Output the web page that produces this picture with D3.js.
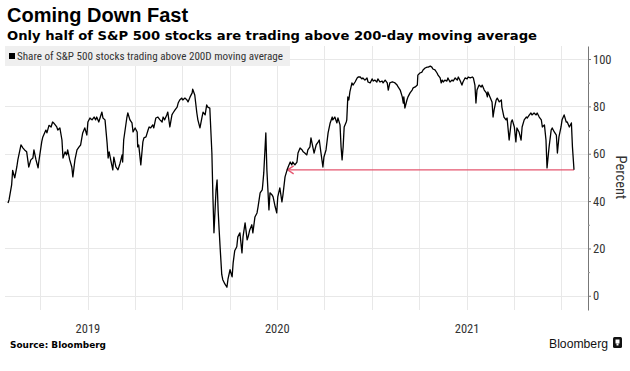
<!DOCTYPE html>
<html><head><meta charset="utf-8">
<script src="https://cdn.jsdelivr.net/npm/d3@7"></script>
<style>body{margin:0;background:#fff} svg{display:block}</style>
</head><body><svg id="c" width="630" height="371"></svg>
<script>
// ---- data ----
const baseDate = "2019-01-01";
const dayOffsets = [-154,-152,-147,-145,-141,-137,-135,-129,-125,-122,-118,-114,-110,-106,-104,-100,-96,-95,-89,-87,-81,-79,-75,-71,-68,-66,-60,-58,-54,-50,-48,-44,-41,-39,-35,-31,-29,-25,-21,-17,-14,-10,-6,-2,0,4,8,12,15,17,21,27,29,33,37,39,41,44,48,50,54,58,62,66,67,69,75,77,81,85,87,91,95,96,98,102,106,108,112,116,118,121,125,127,131,135,139,143,145,148,152,154,158,162,164,168,172,174,177,181,183,187,191,193,197,201,202,206,210,212,216,220,222,226,229,231,235,239,241,243,247,249,251,253,255,258,260,264,268,270,274,278,280,283,287,289,293,297,299,303,307,309,312,316,318,322,326,328,332,336,337,339,343,345,349,351,355,357,361,364,366,370,374,376,380,384,386,390,393,395,399,403,405,409,413,415,418,422,424,428,430,434,436,440,444,446,449,453,455,459,463,467,471,472,476,480,482,486,488,490,492,494,498,499,501,503,505,509,511,515,519,521,525,528,530,534,538,540,544,548,550,553,557,559,563,567,569,573,577,579,582,586,588,592,596,598,602,606,608,609,611,615,617,621,625,627,631,635,636,640,644,646,650,654,656,660,663,665,669,673,675,679,681,683,685,688,692,694,698,702,704,708,712,714,717,721,723,727,731,733,737,741,743,746,748,750,754,758,760,764,768,770,771,775,779,781,783,787,789,793,797,798,802,806,808,812,816,818,822,825,827,831,835,837,841,845,847,851,854,856,860,864,866,870,874,876,880,883,885,889,893,895,899,903,905,908,912,914,918,922,924,928,932,934,937];
const shareValues = [39.2,40.5,46.8,53,49.8,54.4,57.4,63.7,62.4,61.6,60.8,54.4,57.4,58.2,61.6,57.4,54,56,65,67,70,68.8,72,71.3,73.4,73,71.3,70,70.9,65.8,58.2,60.8,59.5,61.6,57.4,54.4,50.2,57.4,61.6,62.9,63.7,68.8,70.9,67.9,73.4,75.1,74.3,75.5,74.3,75.5,73.4,77.6,75.1,74.3,64.6,58.2,60.8,57.4,53.2,58.6,54.4,53.2,56,59.5,56.5,65.8,75.1,77.2,74.3,73,69.2,70.9,69.2,62.9,63.7,55.3,65,66.7,67.1,70,71.3,70.9,72.2,70.9,75.1,75.5,74.3,73.4,75.5,74.3,76.4,77.6,71.3,76.4,77.2,78.5,79.7,81.4,82.7,83.5,82.7,83.5,82.7,81.9,84,85.7,87.3,84.8,77.2,74.3,70.9,75.5,77.6,76.4,80.6,79.7,79.3,60.3,41.8,26.6,44.7,48.9,36.3,27.8,20,9,6.8,5,3.6,7,11,8,13.9,19,20.7,24.9,26.6,18.1,24.9,30.8,23.6,25,27.8,30,26.6,33.3,35,37.6,43.5,44.7,46.8,51.9,68.8,53.2,36.3,43.5,42.6,41.8,37.6,35,41.8,45.6,39.7,42.6,50.2,53.2,54.4,56.5,55.3,56.5,55.3,56.5,60.3,62.4,61.6,60.8,60.3,59.5,61.6,62.9,66.7,62.4,60.3,63.7,65,65.8,60.8,54.4,58.6,61.6,68.8,73,75.5,74.3,75.5,73,75.1,72.2,62.9,57.4,62.9,71.3,73.4,74.3,84,82.7,86.1,89.9,89,90.3,92,92.4,92.4,91.6,92,91.1,92,90.3,89.9,91.6,90.7,91.1,90.3,91.6,90.3,90.7,89.9,91.1,89.9,86.9,89.9,90.3,90.3,89.9,89,88.2,86.9,84,81.4,84,79.3,82.7,84,85.7,86.9,87.8,88.2,89,93.2,94.1,94.5,95.4,96.2,96.6,96.6,97,96.6,95.8,95.4,94.1,93.2,92,89.9,91.1,90.3,91.1,90.7,92,90.3,91.1,90.7,92,91.1,92.4,91.1,89,90.3,92,91.6,92.4,92,92.4,92,89,81.4,86.9,89,88.2,89,86.9,85.7,84,86.1,84,81.9,75.5,78.5,82.7,83.5,81.9,82.7,79.7,75.5,74.3,75.1,65.8,73.4,74.3,71.3,65,70.9,69.2,65.8,71.3,74.3,75.5,75.1,76.4,77.2,76.4,77.2,76.4,77.2,75.5,74.3,71.3,72.2,65.8,54,62.9,70,70.9,69.2,67.9,60.3,67.1,71.3,74.3,76.4,73.4,73.4,71.3,73,62.9,53.2];
const yTicks = [0, 20, 40, 60, 80, 100];
const yMinorTicks = [10, 30, 50, 70, 90];
const yearTickDates = ["2019-01-01", "2020-01-01", "2021-01-01"];
const yearLabels = ["2019", "2020", "2021"];
const arrowStartDate = "2020-01-21";
const titleText = "Coming Down Fast";
const subtitleText = "Only half of S&P 500 stocks are trading above 200-day moving average";
const legendText = "Share of S&P 500 stocks trading above 200D moving average";
const yAxisTitle = "Percent";
const sourceText = "Source: Bloomberg";
const brandText = "Bloomberg";

// ---- build ----
const parse = d3.timeParse("%Y-%m-%d");
const base = parse(baseDate);
const data = dayOffsets.map((d, i) => ({date: d3.timeDay.offset(base, d), value: shareValues[i]}));

const svg = d3.select("#c");
const x = d3.scaleTime().domain(d3.extent(data, d => d.date)).range([8, 574]);
const y = d3.scaleLinear().domain([-6, 105.5]).range([310, 46]);

const grid = svg.append("g");
const gridColor = "#e8e8e8";
grid.selectAll("line.v").data(x.ticks(d3.timeMonth.every(3)))
  .join("line").attr("class", "v")
  .attr("x1", d => Math.round(x(d)) + 0.5).attr("x2", d => Math.round(x(d)) + 0.5)
  .attr("y1", 46).attr("y2", 310)
  .attr("stroke", gridColor).attr("stroke-width", 1);
grid.selectAll("line.h").data(yTicks)
  .join("line").attr("class", "h")
  .attr("x1", 5).attr("x2", 588)
  .attr("y1", d => Math.round(y(d)) + 0.5).attr("y2", d => Math.round(y(d)) + 0.5)
  .attr("stroke", gridColor).attr("stroke-width", 1);

// legend
svg.append("rect").attr("x", 5).attr("y", 46).attr("width", 285).attr("height", 20).attr("fill", "#efefef");
svg.append("rect").attr("x", 9).attr("y", 53).attr("width", 6).attr("height", 6).attr("fill", "#000");
svg.append("text").attr("x", 17).attr("y", 60)
  .attr("font-family", "'Liberation Sans Narrow','Roboto Condensed','Arial Narrow','Liberation Sans',sans-serif")
  .attr("font-size", 10.5).attr("fill", "#333")
  .attr("textLength", 266).attr("lengthAdjust", "spacingAndGlyphs")
  .text(legendText);

// red annotation arrow at latest value
const last = data[data.length - 1];
const ay = y(last.value);
const ax0 = x(parse(arrowStartDate));
const red = "#e5566f";
svg.append("line").attr("x1", ax0).attr("x2", x(last.date)).attr("y1", ay).attr("y2", ay)
  .attr("stroke", red).attr("stroke-width", 1.4);
svg.append("path").attr("d", `M${ax0 + 6},${ay - 4}L${ax0},${ay}L${ax0 + 6},${ay + 4}`)
  .attr("fill", "none").attr("stroke", red).attr("stroke-width", 1.4);

// line
svg.append("path").datum(data)
  .attr("d", d3.line().x(d => x(d.date)).y(d => y(d.value)))
  .attr("fill", "none").attr("stroke", "#000").attr("stroke-width", 1.3).attr("stroke-linejoin", "round");

// right axis
const axisFont = "'Liberation Sans Narrow','Roboto Condensed','Liberation Sans',sans-serif";
const yAxis = svg.append("g").attr("transform", "translate(588,0)")
  .call(d3.axisRight(y).tickValues(yTicks).tickSize(3).tickSizeOuter(0).tickPadding(2));
yAxis.select(".domain").attr("stroke", "#777");
yAxis.selectAll(".tick line").attr("stroke", "#777");
yAxis.selectAll(".tick text").attr("font-family", axisFont).attr("font-size", 12.5).attr("fill", "#333");
const yMinor = svg.append("g").attr("transform", "translate(588,0)")
  .call(d3.axisRight(y).tickValues(yMinorTicks).tickSize(2).tickSizeOuter(0).tickFormat(""));
yMinor.select(".domain").remove();
yMinor.selectAll(".tick line").attr("stroke", "#999");

svg.append("text").attr("transform", `translate(616,${(y(0) + y(100)) / 2}) rotate(90)`)
  .attr("text-anchor", "middle").attr("font-family", axisFont).attr("font-size", 14.5).attr("fill", "#333")
  .text(yAxisTitle);

// year labels
svg.append("g").selectAll("text").data(yearTickDates)
  .join("text").attr("x", d => x(parse(d))).attr("y", 333)
  .attr("text-anchor", "middle").attr("font-family", axisFont).attr("font-size", 12.5).attr("fill", "#333")
  .text((d, i) => yearLabels[i]);

// titles
svg.append("text").attr("x", 7).attr("y", 22)
  .attr("font-family", "'Liberation Sans',Arial,sans-serif").attr("font-weight", "bold").attr("font-size", 20).attr("fill", "#000")
  .text(titleText);
svg.append("text").attr("x", 7).attr("y", 40)
  .attr("font-family", "'DejaVu Sans',sans-serif").attr("font-weight", "bold").attr("font-size", 13).attr("fill", "#000")
  .attr("textLength", 530).attr("lengthAdjust", "spacingAndGlyphs")
  .text(subtitleText);

// footer
svg.append("text").attr("x", 10).attr("y", 348)
  .attr("font-family", "'DejaVu Sans',sans-serif").attr("font-weight", "bold").attr("font-size", 9).attr("fill", "#000")
  .attr("textLength", 96).attr("lengthAdjust", "spacingAndGlyphs")
  .text(sourceText);
svg.append("text").attr("x", 549).attr("y", 348)
  .attr("font-family", "'Liberation Sans',Arial,sans-serif").attr("font-size", 13.5).attr("fill", "#111")
  .attr("textLength", 59).attr("lengthAdjust", "spacingAndGlyphs")
  .text(brandText);
const logo = svg.append("g").attr("transform", "translate(613,337)");
logo.append("rect").attr("width", 9).attr("height", 11).attr("rx", 1.5).attr("fill", "#111");
logo.append("rect").attr("x", 2.5).attr("y", 2.5).attr("width", 4).attr("height", 4).attr("fill", "#fff");
logo.append("rect").attr("x", 3.5).attr("y", 6.5).attr("width", 2).attr("height", 2).attr("fill", "#fff");
</script></body></html>
